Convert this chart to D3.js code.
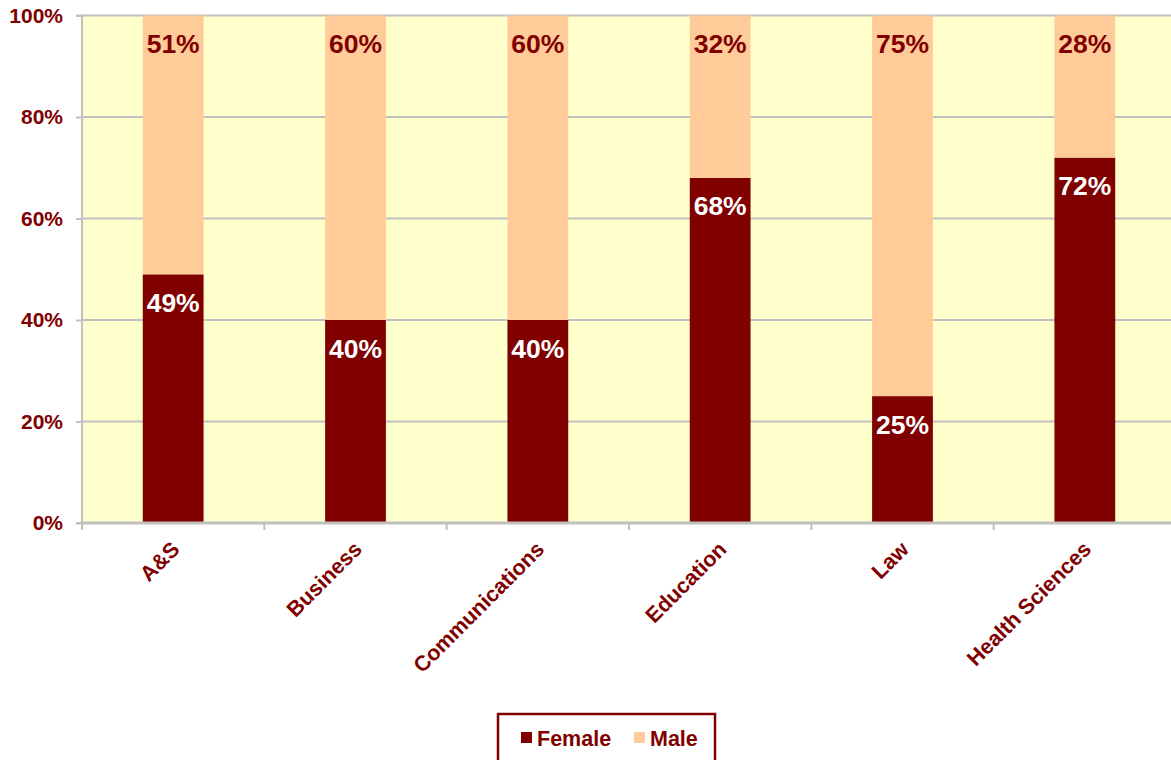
<!DOCTYPE html>
<html>
<head>
<meta charset="utf-8">
<script src="https://cdn.jsdelivr.net/npm/d3@7"></script>
<style>
  body { margin: 0; background: #fff; }
  text { font-family: "Liberation Sans", Arial, sans-serif; font-weight: bold; }
</style>
</head>
<body>
<svg id="chart" width="1171" height="760"></svg>
<script>
// values
var colleges = ["A&S", "Business", "Communications", "Education", "Law", "Health Sciences"]
var female = [49, 40, 40, 68, 25, 72]
var male = [51, 60, 60, 32, 75, 28]
var yTicks = [0, 20, 40, 60, 80, 100]
var seriesNames = ["Female", "Male"]
var seriesColors = ["#800000", "#FFCC99"]

var svg = d3.select('#chart')
var margin = {left: 82, top: 15.5}
var width = 1094, height = 507.5

var g = svg.append('g').attr('transform', 'translate(' + margin.left + ',' + margin.top + ')')

var x = d3.scaleBand().domain(colleges).range([0, width]).paddingInner(2/3).paddingOuter(1/3)
var xBand = d3.scaleBand().domain(colleges).range([0, width])
var y = d3.scaleLinear().domain([0, 100]).range([height, 0])

// plot background
g.append('rect').attr('width', width).attr('height', height).attr('fill', '#FFFFCC')

// gridlines
g.selectAll('.grid').data(yTicks.slice(1)).enter().append('line')
  .attr('x1', 0).attr('x2', width)
  .attr('y1', d => y(d)).attr('y2', d => y(d))
  .attr('stroke', '#c0c0c0').attr('stroke-width', 2)

var rows = colleges.map((c, i) => ({college: c, Female: female[i], Male: male[i]}))
var stacked = d3.stack().keys(seriesNames)(rows)

g.selectAll('.series').data(stacked).enter().append('g')
  .attr('fill', (d, i) => seriesColors[i])
  .selectAll('rect').data(d => d).enter().append('rect')
  .attr('x', d => x(d.data.college))
  .attr('width', x.bandwidth())
  .attr('y', d => y(d[1]))
  .attr('height', d => y(d[0]) - y(d[1]))

// data labels, inside end
stacked.forEach(function(s, si) {
  g.selectAll('.lbl' + si).data(s).enter().append('text')
    .attr('x', d => x(d.data.college) + x.bandwidth() / 2)
    .attr('y', d => y(d[1]) + 37.5)
    .attr('text-anchor', 'middle')
    .attr('font-size', 26.5)
    .attr('fill', si == 0 ? '#ffffff' : '#800000')
    .text(d => (d[1] - d[0]) + '%')
})

// y axis
var yAxis = g.append('g').call(d3.axisLeft(y).tickValues(yTicks).tickFormat(d => d + '%').tickSize(6).tickPadding(13))
yAxis.select('.domain').attr('stroke', '#c0c0c0').attr('stroke-width', 2).attr('d', 'M-6,0H0V' + height + 'H-6')
yAxis.selectAll('.tick line').attr('stroke', '#c0c0c0').attr('stroke-width', 2)
yAxis.selectAll('.tick text').attr('fill', '#800000').attr('font-size', 21).attr('font-family', '"Liberation Sans", Arial, sans-serif').attr('font-weight', 'bold')

// x axis
var xAxis = g.append('g').attr('transform', 'translate(0,' + height + ')')
xAxis.append('line').attr('x1', 0).attr('x2', width).attr('stroke', '#c0c0c0').attr('stroke-width', 3)
xAxis.selectAll('.xt').data(colleges).enter().append('line')
  .attr('x1', d => xBand(d)).attr('x2', d => xBand(d))
  .attr('y1', 0).attr('y2', 7)
  .attr('stroke', '#c0c0c0').attr('stroke-width', 2)
xAxis.selectAll('.xl').data(colleges).enter().append('text')
  .attr('transform', d => 'translate(' + (x(d) + x.bandwidth() / 2 - 3) + ',17) rotate(-45)')
  .attr('text-anchor', 'end')
  .attr('dy', '0.7em')
  .attr('font-size', 21.5)
  .attr('fill', '#800000')
  .text(d => d)

// legend
var leg = svg.append('g').attr('transform', 'translate(498,714)')
leg.append('rect').attr('width', 217).attr('height', 52).attr('fill', '#fff').attr('stroke', '#800000').attr('stroke-width', 2.5)
var legX = [23, 136]
seriesNames.forEach(function(n, i) {
  leg.append('rect').attr('x', legX[i]).attr('y', 18).attr('width', 11).attr('height', 11).attr('fill', seriesColors[i])
  leg.append('text').attr('x', legX[i] + 16).attr('y', 31.5).attr('font-size', 21.5).attr('fill', '#800000').text(n)
})
</script>
</body>
</html>
